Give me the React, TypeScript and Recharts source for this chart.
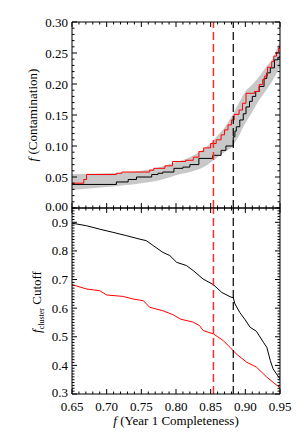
import { ComposedChart, Line, Area, XAxis, YAxis } from 'recharts';

const FONT = '"Liberation Serif", "Times New Roman", serif';

// completeness axis
const xMajor = [0.65, 0.7, 0.75, 0.8, 0.85, 0.9, 0.95];
const contamMajor = [0, 0.05, 0.1, 0.15, 0.2, 0.25, 0.3];
const cutoffMajor = [0.3, 0.4, 0.5, 0.6, 0.7, 0.8, 0.9];

const minorTicks = (from: number, to: number) => {
  const out: number[] = [];
  for (let i = Math.round(from * 100); i <= Math.round(to * 100); i++) out.push(i / 100);
  return out;
};
const xTicks = minorTicks(0.65, 0.95);
const contamTicks = minorTicks(0, 0.3);
const cutoffTicks = minorTicks(0.3, 0.95);

// vertical dashed markers
const redCut = 0.854;
const blackCut = 0.8826;

// top panel: contamination
const contamRedX = [0.65, 0.667, 0.671, 0.714, 0.722, 0.762, 0.768, 0.784, 0.795, 0.814, 0.825, 0.833, 0.84, 0.85, 0.858, 0.865, 0.87, 0.875, 0.88, 0.884, 0.891, 0.896, 0.901, 0.913, 0.92, 0.925, 0.928, 0.932, 0.938, 0.941, 0.945, 0.948, 0.95];
const contamRedY = [0.04, 0.046, 0.054, 0.056, 0.058, 0.061, 0.064, 0.068, 0.075, 0.077, 0.082, 0.091, 0.097, 0.104, 0.11, 0.118, 0.126, 0.134, 0.142, 0.151, 0.158, 0.169, 0.185, 0.188, 0.199, 0.207, 0.213, 0.227, 0.236, 0.245, 0.251, 0.258, 0.262];

const contamBlackX = [0.65, 0.714, 0.731, 0.743, 0.765, 0.774, 0.781, 0.797, 0.81, 0.82, 0.833, 0.853, 0.865, 0.872, 0.8826, 0.885, 0.887, 0.892, 0.897, 0.901, 0.906, 0.91, 0.915, 0.92, 0.927, 0.931, 0.936, 0.942, 0.947, 0.95];
const contamBlackY = [0.038, 0.042, 0.046, 0.05, 0.054, 0.056, 0.058, 0.064, 0.066, 0.07, 0.08, 0.085, 0.093, 0.1, 0.115, 0.124, 0.131, 0.142, 0.152, 0.163, 0.172, 0.18, 0.188, 0.196, 0.209, 0.218, 0.226, 0.239, 0.243, 0.245];

const bandX = [0.65, 0.7, 0.75, 0.78, 0.8, 0.82, 0.84, 0.86, 0.87, 0.88, 0.89, 0.9, 0.91, 0.92, 0.93, 0.94, 0.95];
const bandLo = [0.029, 0.034, 0.04, 0.046, 0.053, 0.058, 0.066, 0.082, 0.09, 0.098, 0.115, 0.137, 0.155, 0.174, 0.19, 0.207, 0.228];
const bandHi = [0.055, 0.056, 0.06, 0.067, 0.074, 0.082, 0.095, 0.117, 0.13, 0.147, 0.168, 0.188, 0.199, 0.212, 0.228, 0.242, 0.271];

// bottom panel: f_cluster cutoff
const cutoffBlackX = [0.65, 0.671, 0.69, 0.709, 0.729, 0.748, 0.757, 0.767, 0.781, 0.791, 0.801, 0.815, 0.825, 0.839, 0.854, 0.866, 0.878, 0.8826, 0.885, 0.892, 0.899, 0.907, 0.916, 0.926, 0.931, 0.936, 0.94, 0.945, 0.95];
const cutoffBlackY = [0.897, 0.888, 0.876, 0.865, 0.853, 0.841, 0.836, 0.819, 0.795, 0.784, 0.76, 0.749, 0.731, 0.702, 0.682, 0.655, 0.64, 0.636, 0.615, 0.585, 0.562, 0.533, 0.519, 0.481, 0.463, 0.417, 0.388, 0.37, 0.353];

const cutoffRedX = [0.65, 0.671, 0.69, 0.7, 0.724, 0.738, 0.753, 0.762, 0.781, 0.796, 0.806, 0.825, 0.834, 0.839, 0.854, 0.868, 0.878, 0.887, 0.902, 0.916, 0.931, 0.94, 0.95];
const cutoffRedY = [0.682, 0.667, 0.661, 0.646, 0.641, 0.632, 0.626, 0.603, 0.591, 0.577, 0.562, 0.551, 0.539, 0.522, 0.51, 0.487, 0.463, 0.44, 0.411, 0.394, 0.359, 0.341, 0.322];

const zip = (xs: number[], ys: number[]) => xs.map((x, i) => ({ x, y: ys[i] }));
const contamRed = zip(contamRedX, contamRedY);
const contamBlack = zip(contamBlackX, contamBlackY);
const band = bandX.map((x, i) => ({ x, range: [bandLo[i], bandHi[i]] }));
const cutoffBlack = zip(cutoffBlackX, cutoffBlackY);
const cutoffRed = zip(cutoffRedX, cutoffRedY);

// dashed markers span the whole panel height
const topRedCut = [{ x: redCut, cut: 0 }, { x: redCut, cut: 0.3 }];
const topBlackCut = [{ x: blackCut, cut: 0 }, { x: blackCut, cut: 0.3 }];
const botRedCut = [{ x: redCut, cut: 0.3 }, { x: redCut, cut: 0.95 }];
const botBlackCut = [{ x: blackCut, cut: 0.3 }, { x: blackCut, cut: 0.95 }];

const isMajor = (v: number, majors: number[]) => majors.some((m) => Math.abs(m - v) < 1e-6);

// ticks point inward, IDL style
const makeTick = (side: 'left' | 'right' | 'top' | 'bottom', majors: number[], digits: number, labels: boolean, bottomValue?: number) =>
  (props: any) => {
    const { x, y, payload } = props;
    const v = payload.value;
    const major = isMajor(v, majors);
    const len = major ? 5 : 2.5;
    let line;
    if (side === 'left') line = <line x1={x} x2={x + len} y1={y} y2={y} stroke="#000" />;
    else if (side === 'right') line = <line x1={x} x2={x - len} y1={y} y2={y} stroke="#000" />;
    else if (side === 'top') line = <line x1={x} x2={x} y1={y} y2={y + len} stroke="#000" />;
    else line = <line x1={x} x2={x} y1={y} y2={y - len} stroke="#000" />;
    let label = null;
    if (labels && major) {
      if (side === 'left') {
        const shift = bottomValue !== undefined && Math.abs(v - bottomValue) < 1e-6 ? -2 : 0;
        label = (
          <text x={x - 4} y={y + shift} dy="0.35em" textAnchor="end" fontFamily={FONT} fontSize={13} fill="#000">
            {v.toFixed(digits)}
          </text>
        );
      } else if (side === 'bottom') {
        label = (
          <text x={x} y={y + 17} textAnchor="middle" fontFamily={FONT} fontSize={13} fill="#000">
            {v.toFixed(digits)}
          </text>
        );
      }
    }
    return (
      <g>
        {line}
        {label}
      </g>
    );
  };

function Frame({ yTicks, yDomain, yMajor, yDigits, xLabels, bottomValue }: any) {
  return [
    <XAxis key="xb" dataKey="x" type="number" domain={[0.65, 0.95]} ticks={xTicks} interval={0} height={1}
      tickSize={0} tickMargin={0} tickLine={false} stroke="#000" allowDataOverflow
      tick={makeTick('bottom', xMajor, 2, xLabels)} />,
    <XAxis key="xt" xAxisId="top" orientation="top" dataKey="x" type="number" domain={[0.65, 0.95]} ticks={xTicks} interval={0} height={1}
      tickSize={0} tickMargin={0} tickLine={false} stroke="#000" allowDataOverflow
      tick={makeTick('top', xMajor, 2, false)} />,
    <YAxis key="yl" type="number" domain={yDomain} ticks={yTicks} interval={0} width={72}
      tickSize={0} tickMargin={0} tickLine={false} stroke="#000" allowDataOverflow
      tick={makeTick('left', yMajor, yDigits, true, bottomValue)} />,
    <YAxis key="yr" yAxisId="right" orientation="right" type="number" domain={yDomain} ticks={yTicks} interval={0} width={1}
      tickSize={0} tickMargin={0} tickLine={false} stroke="#000" allowDataOverflow
      tick={makeTick('right', yMajor, yDigits, false)} />,
  ];
}

export default function App() {
  return (
    <div style={{ position: 'absolute', left: 0, top: 0, width: 303, height: 440, background: '#fff' }}>
      <div style={{ position: 'absolute', left: 0, top: 0 }}>
        <ComposedChart width={303} height={216} margin={{ top: 21, right: 22, bottom: 7, left: 0 }}>
          {Frame({ yTicks: contamTicks, yDomain: [0, 0.3], yMajor: contamMajor, yDigits: 2, xLabels: false, bottomValue: 0 })}
          <Area data={band} dataKey="range" type="monotone" stroke="none" fill="#c8c8c8" fillOpacity={1} isAnimationActive={false} />
          <Line id="top-black" data={contamBlack} dataKey="y" type="stepAfter" stroke="#000" strokeWidth={1} dot={false} isAnimationActive={false} />
          <Line id="top-red" data={contamRed} dataKey="y" type="stepAfter" stroke="#ff0000" strokeWidth={1} dot={false} isAnimationActive={false} />
          <Line id="top-bcut" data={topBlackCut} dataKey="cut" stroke="#000000" strokeWidth={1.2} strokeDasharray="8 4" dot={false} isAnimationActive={false} />
          <Line id="top-rcut" data={topRedCut} dataKey="cut" stroke="#ff2a2a" strokeWidth={1.5} strokeDasharray="8 4" dot={false} isAnimationActive={false} />
        </ComposedChart>
      </div>
      <div style={{ position: 'absolute', left: 0, top: 200 }}>
        <ComposedChart width={303} height={240} margin={{ top: 7, right: 22, bottom: 45, left: 0 }}>
          {Frame({ yTicks: cutoffTicks, yDomain: [0.3, 0.95], yMajor: cutoffMajor, yDigits: 1, xLabels: true, bottomValue: 0.3 })}
          <Line id="bot-black" data={cutoffBlack} dataKey="y" type="linear" stroke="#000" strokeWidth={1} dot={false} isAnimationActive={false} />
          <Line id="bot-red" data={cutoffRed} dataKey="y" type="linear" stroke="#ff0000" strokeWidth={1} dot={false} isAnimationActive={false} />
          <Line id="bot-bcut" data={botBlackCut} dataKey="cut" stroke="#000000" strokeWidth={1.2} strokeDasharray="8 4" dot={false} isAnimationActive={false} />
          <Line id="bot-rcut" data={botRedCut} dataKey="cut" stroke="#ff2a2a" strokeWidth={1.5} strokeDasharray="8 4" dot={false} isAnimationActive={false} />
        </ComposedChart>
      </div>
      <svg width={303} height={440} style={{ position: 'absolute', left: 0, top: 0, pointerEvents: 'none' }}>
        <text x={37} y={115} transform="rotate(-90 37 115)" textAnchor="middle" fontFamily={FONT} fontSize={13} fill="#000">
          <tspan fontStyle="italic">f</tspan> (Contamination)
        </text>
        <text x={41} y={302} transform="rotate(-90 41 302)" textAnchor="middle" fontFamily={FONT} fontSize={13} fill="#000">
          <tspan fontStyle="italic">f</tspan>
          <tspan fontSize={8} dy={3}>cluster</tspan>
          <tspan dy={-3}> Cutoff</tspan>
        </text>
        <text x={176} y={425} textAnchor="middle" fontFamily={FONT} fontSize={13} fill="#000">
          <tspan fontStyle="italic">f</tspan> (Year 1 Completeness)
        </text>
      </svg>
    </div>
  );
}
